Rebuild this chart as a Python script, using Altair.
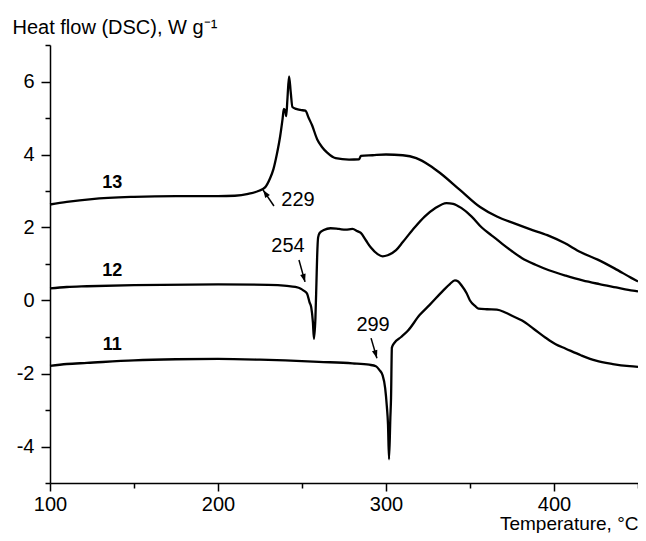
import altair as alt
import pandas as pd

# ---- data (temperature, heat flow) ----
T13 = [100, 110, 125, 150, 175, 200, 210, 218, 224, 228, 231, 233, 235, 237, 238.5, 239.2, 240, 240.6,
       241.3, 242.3, 243.3, 244.3, 246.5, 249, 252, 254, 256, 259, 262, 265, 270, 278, 284, 285, 292,
       300, 310, 318, 326, 332, 344, 356, 366, 376, 386, 396, 406, 416, 426, 436, 446, 450]
V13 = [2.63, 2.70, 2.78, 2.84, 2.86, 2.86, 2.87, 2.92, 3.0, 3.1, 3.35, 3.6, 4.0, 4.5, 5.0, 5.25, 5.2, 5.05,
       5.5, 6.14, 5.7, 5.3, 5.25, 5.22, 5.2, 5.0, 4.8, 4.42, 4.2, 4.05, 3.9, 3.86, 3.87, 3.96, 3.98,
       4.0, 3.98, 3.9, 3.7, 3.5, 3.03, 2.56, 2.3, 2.12, 1.95, 1.79, 1.58, 1.32, 1.12, 0.88, 0.62, 0.52]

T12 = [100, 110, 122, 150, 200, 230, 241, 246, 249, 251, 253, 254.5, 255.5, 256.5, 257.1, 258, 258.6,
       259, 259.6, 260.5, 263, 267, 272, 276, 280, 283, 285, 288, 291, 295, 298, 301, 306, 310, 317,
       323, 329, 336, 340, 345, 351, 357, 363, 369, 375, 381, 389, 397, 407, 417, 427, 437, 447, 450]
V12 = [0.33, 0.37, 0.39, 0.42, 0.44, 0.43, 0.40, 0.37, 0.33, 0.27, 0.19, -0.05, -0.19, -0.6, -1.05, -0.47, 0.5,
       1.18, 1.73, 1.85, 1.93, 1.98, 1.96, 1.94, 1.96, 1.9, 1.85, 1.65, 1.45, 1.27, 1.21, 1.24, 1.38, 1.6, 2.0,
       2.3, 2.52, 2.67, 2.65, 2.53, 2.3, 2.0, 1.78, 1.56, 1.35, 1.16, 0.98, 0.83, 0.68, 0.55, 0.45, 0.36, 0.27, 0.25]

T11 = [100, 110, 122, 150, 175, 200, 225, 240, 260, 280, 290, 294, 296, 298, 299.5, 300.5, 301.2, 301.8,
       302.6, 303, 303.5, 305, 309, 313, 320, 326, 334, 338, 341, 343, 345, 348, 350, 353, 355, 360, 366,
       371, 375, 381, 388, 395, 401, 407, 416, 425, 435, 445, 450]
V11 = [-1.79, -1.74, -1.71, -1.64, -1.61, -1.6, -1.62, -1.64, -1.68, -1.72, -1.76, -1.8, -1.9, -2.05, -2.4,
       -2.9, -3.4, -4.35, -3.2, -2.67, -1.29, -1.16, -1.0, -0.83, -0.4, -0.12, 0.27, 0.45, 0.55, 0.52, 0.41,
       0.2, 0.0, -0.15, -0.22, -0.24, -0.25, -0.33, -0.42, -0.55, -0.78, -1.02, -1.2, -1.32, -1.5, -1.65,
       -1.74, -1.8, -1.82]

# curve labels
curve_names = ["13", "12", "11"]
curve_label_T = [137, 137, 137]
curve_label_V = [3.22, 0.81, -1.22]

# onset annotations
onset_text = ["229", "254", "299"]
onset_text_T = [247.6, 241.7, 292.3]
onset_text_V = [2.75, 1.49, -0.67]
arrow_T0 = [233.3, 248.2, 291.1]
arrow_V0 = [2.59, 1.11, -1.03]
arrow_T1 = [226.8, 251.8, 294.6]
arrow_V1 = [3.03, 0.51, -1.58]
arrow_angle = [325.5, 164.7, 163.3]

x_major_ticks = [100, 200, 300, 400]
x_minor_ticks = [150, 250, 350, 450]
y_major_ticks = [-4, -2, 0, 2, 4, 6]
y_minor_ticks = [-5, -3, -1, 1, 3, 5, 7]

# ---- tables ----
rows = []
for name, T, V in [("13", T13, V13), ("12", T12, V12), ("11", T11, V11)]:
    for i, (t, v) in enumerate(zip(T, V)):
        rows.append({"curve": name, "T": t, "V": v, "order": i})
df = pd.DataFrame(rows)

labels_df = pd.DataFrame({"text": curve_names, "T": curve_label_T, "V": curve_label_V})
onset_df = pd.DataFrame({"text": onset_text, "T": onset_text_T, "V": onset_text_V})
arrow_df = pd.DataFrame({"T0": arrow_T0, "V0": arrow_V0, "T1": arrow_T1, "V1": arrow_V1,
                         "angle": arrow_angle})

FONT = "Liberation Sans"
xscale = alt.Scale(domain=[100, 450], nice=False, zero=False)
yscale = alt.Scale(domain=[-5, 7], nice=False, zero=False)

x_major = alt.Axis(values=x_major_ticks, orient="bottom", grid=False, tickSize=8, tickWidth=1.5,
                   tickColor="black", domainColor="black", domainWidth=1.5,
                   labelFont=FONT, labelFontSize=20, labelColor="black", labelPadding=3,
                   labelFlush=False,
                   title="Temperature, °C", titleFont=FONT, titleFontSize=19,
                   titleFontWeight="normal", titleColor="black",
                   titleAlign="right", titleBaseline="alphabetic", titleX=588, titleY=46)
x_minor = alt.Axis(values=x_minor_ticks, orient="bottom", grid=False, tickSize=5, tickWidth=1.5,
                   tickColor="black", domain=False, labels=False, title=None)
y_major = alt.Axis(values=y_major_ticks, orient="left", grid=False, tickSize=9, tickWidth=1.5,
                   tickColor="black", domainColor="black", domainWidth=1.5,
                   labelFont=FONT, labelFontSize=20, labelColor="black", labelPadding=7,
                   labelExpr="'' + datum.value",
                   title="Heat flow (DSC), W g⁻¹", titleFont=FONT, titleFontSize=20,
                   titleFontWeight="normal", titleColor="black", titleAngle=0,
                   titleAlign="left", titleBaseline="alphabetic", titleX=-38, titleY=-12)
y_minor = alt.Axis(values=y_minor_ticks, orient="left", grid=False, tickSize=5, tickWidth=1.5,
                   tickColor="black", domain=False, labels=False, title=None)

lines = alt.Chart(df).mark_line(color="black", strokeWidth=2.3, interpolate="monotone").encode(
    x=alt.X("T:Q", scale=xscale, axis=x_major),
    y=alt.Y("V:Q", scale=yscale, axis=y_major),
    detail="curve:N",
    order="order:Q",
)

minor = alt.Chart(df).mark_line(opacity=0).encode(
    x=alt.X("T:Q", scale=xscale, axis=x_minor),
    y=alt.Y("V:Q", scale=yscale, axis=y_minor),
    detail="curve:N",
    order="order:Q",
)

curve_labels = alt.Chart(labels_df).mark_text(font=FONT, fontSize=18, fontWeight="bold",
                                              color="black", align="center", baseline="middle").encode(
    x=alt.X("T:Q", scale=xscale, axis=None),
    y=alt.Y("V:Q", scale=yscale, axis=None),
    text="text:N",
)

onset_labels = alt.Chart(onset_df).mark_text(font=FONT, fontSize=20, color="black",
                                             align="center", baseline="middle").encode(
    x=alt.X("T:Q", scale=xscale, axis=None),
    y=alt.Y("V:Q", scale=yscale, axis=None),
    text="text:N",
)

arrow_lines = alt.Chart(arrow_df).mark_rule(color="black", strokeWidth=1.5).encode(
    x=alt.X("T0:Q", scale=xscale, axis=None),
    y=alt.Y("V0:Q", scale=yscale, axis=None),
    x2="T1:Q",
    y2="V1:Q",
)

arrow_heads = alt.Chart(arrow_df).mark_point(
    shape="M0,0 L-0.35,1 L0.35,1 Z", filled=True, color="black", size=256, opacity=1
).encode(
    x=alt.X("T1:Q", scale=xscale, axis=None),
    y=alt.Y("V1:Q", scale=yscale, axis=None),
    angle=alt.Angle("angle:Q", scale=None),
)

chart = alt.layer(lines, minor, curve_labels, onset_labels, arrow_lines, arrow_heads).resolve_axis(
    x="independent", y="independent"
).properties(
    width=588, height=438,
    padding={"left": 42, "top": 37, "right": 0, "bottom": 50},
    autosize=alt.AutoSizeParams(type="none"),
    background="white",
).configure_view(stroke=None)

chart.save("out.html", embed_options={"renderer": "svg", "actions": False})
